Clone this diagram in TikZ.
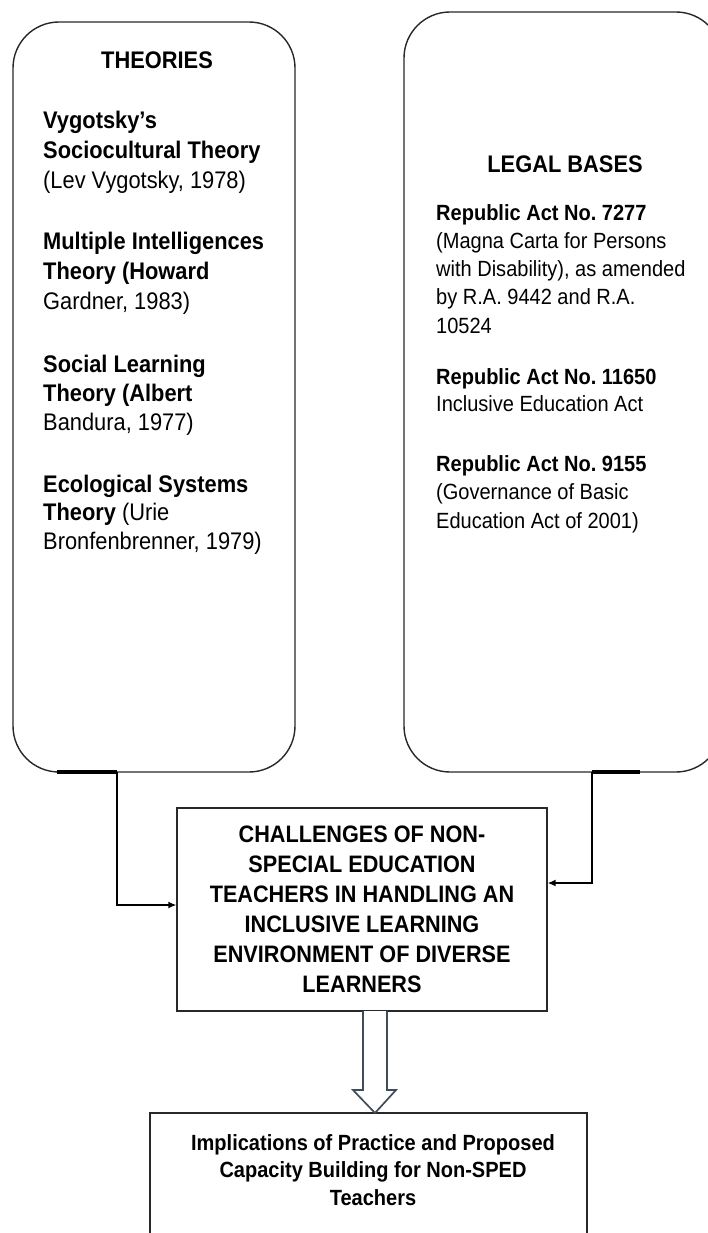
\documentclass[tikz,border=0pt]{standalone}
\usepackage{fontspec}
\setmainfont[FakeStretch=0.91]{Liberation Sans}
\usetikzlibrary{arrows.meta}
\definecolor{slate}{RGB}{62,76,92}
\definecolor{edge}{RGB}{40,40,40}
\newcommand\mygrp[1]{\begin{tabular}[t]{@{}l@{}}#1\end{tabular}}
\newcommand\mycgrp[1]{\begin{tabular}[t]{@{}c@{}}#1\end{tabular}}
\begin{document}
\begin{tikzpicture}[x=1pt,y=-1pt,
  box/.style={draw=edge, line width=1.4pt, rounded corners=46pt, inner sep=0},
  sqbox/.style={draw=edge, line width=1.3pt, inner sep=0},
  txt/.style={inner sep=0, anchor=base west},
  ctxt/.style={inner sep=0, anchor=base},
  conn/.style={line width=1.4pt, -{Latex[length=8pt,width=7pt]}},
  stub/.style={line width=3.2pt},
  hollow/.style={draw=slate, line width=1.7pt, fill=white, line join=miter},
]
\useasboundingbox (0,0) rectangle (707,1233);
% boxes
\node[box, minimum width=282pt, minimum height=750pt] (theories) at (154,397) {};
\node[box, minimum width=318pt, minimum height=760pt] (legal) at (563,392) {};
\node[sqbox, minimum width=370pt, minimum height=203pt] (challenge) at (362,909.5) {};
\node[sqbox, minimum width=437pt, minimum height=150pt] (impl) at (368.5,1188) {};
% left texts
\node[ctxt] (thtitle) at (157,69) {\fontsize{24}{30}\selectfont\bfseries THEORIES};
\node[txt] (t1) at (43,129) {\fontsize{24}{30}\selectfont\mygrp{\textbf{Vygotsky's}\\ \textbf{Sociocultural Theory}\\ (Lev Vygotsky, 1978)}};
\node[txt] (t2) at (43,250) {\fontsize{24}{29.5}\selectfont\mygrp{\textbf{Multiple Intelligences}\\ \textbf{Theory (Howard}\\ Gardner, 1983)}};
\node[txt] (t3) at (43,372) {\fontsize{24}{29}\selectfont\mygrp{\textbf{Social Learning}\\ \textbf{Theory (Albert}\\ Bandura, 1977)}};
\node[txt] (t4) at (43,492) {\fontsize{24}{28.5}\selectfont\mygrp{\textbf{Ecological Systems}\\ \textbf{Theory} (Urie\\ Bronfenbrenner, 1979)}};
% right texts
\node[ctxt] (lgtitle) at (565,173) {\fontsize{24}{30}\selectfont\bfseries LEGAL BASES};
\node[txt] (r1) at (436,221) {\fontsize{22}{28}\selectfont\mygrp{\textbf{Republic Act No.\ 7277}\\ (Magna Carta for Persons\\ with Disability), as amended\\ by R.A.\ 9442 and R.A.\\ 10524}};
\node[txt] (r2) at (436,384) {\fontsize{22}{27}\selectfont\mygrp{\textbf{Republic Act No.\ 11650}\\ Inclusive Education Act}};
\node[txt] (r3) at (436,471) {\fontsize{22}{28.5}\selectfont\mygrp{\textbf{Republic Act No.\ 9155}\\ (Governance of Basic\\ Education Act of 2001)}};
% middle texts
\node[ctxt] (ctext) at (362,842) {\fontsize{23.8}{30}\selectfont\bfseries\mycgrp{CHALLENGES OF NON-\\ SPECIAL EDUCATION\\ TEACHERS IN HANDLING AN\\ INCLUSIVE LEARNING\\ ENVIRONMENT OF DIVERSE\\ LEARNERS}};
\node[ctxt] (itext) at (373,1150) {\fontsize{22}{27.5}\selectfont\bfseries\mycgrp{Implications of Practice and Proposed\\ Capacity Building for Non-SPED\\ Teachers}};
% connectors
\coordinate (tL) at (57,772);
\coordinate (tR) at (117,772);
\coordinate (lL) at (592,772);
\coordinate (lR) at (640,772);
\coordinate (jL) at (117,905);
\coordinate (jR) at (592,883);
\draw[stub] (tL) -- (tR);
\draw[stub] (lL) -- (lR);
\draw[conn] (tR) -- (jL) -- (jL -| challenge.west);
\draw[conn] (lL) -- (jR) -- (jR -| challenge.east);
% hollow block arrow
\draw[hollow] (363,1011) -- (363,1090) -- (353,1090) -- (375,1113) -- (396,1090) -- (387,1090) -- (387,1011);
\end{tikzpicture}
\end{document}
